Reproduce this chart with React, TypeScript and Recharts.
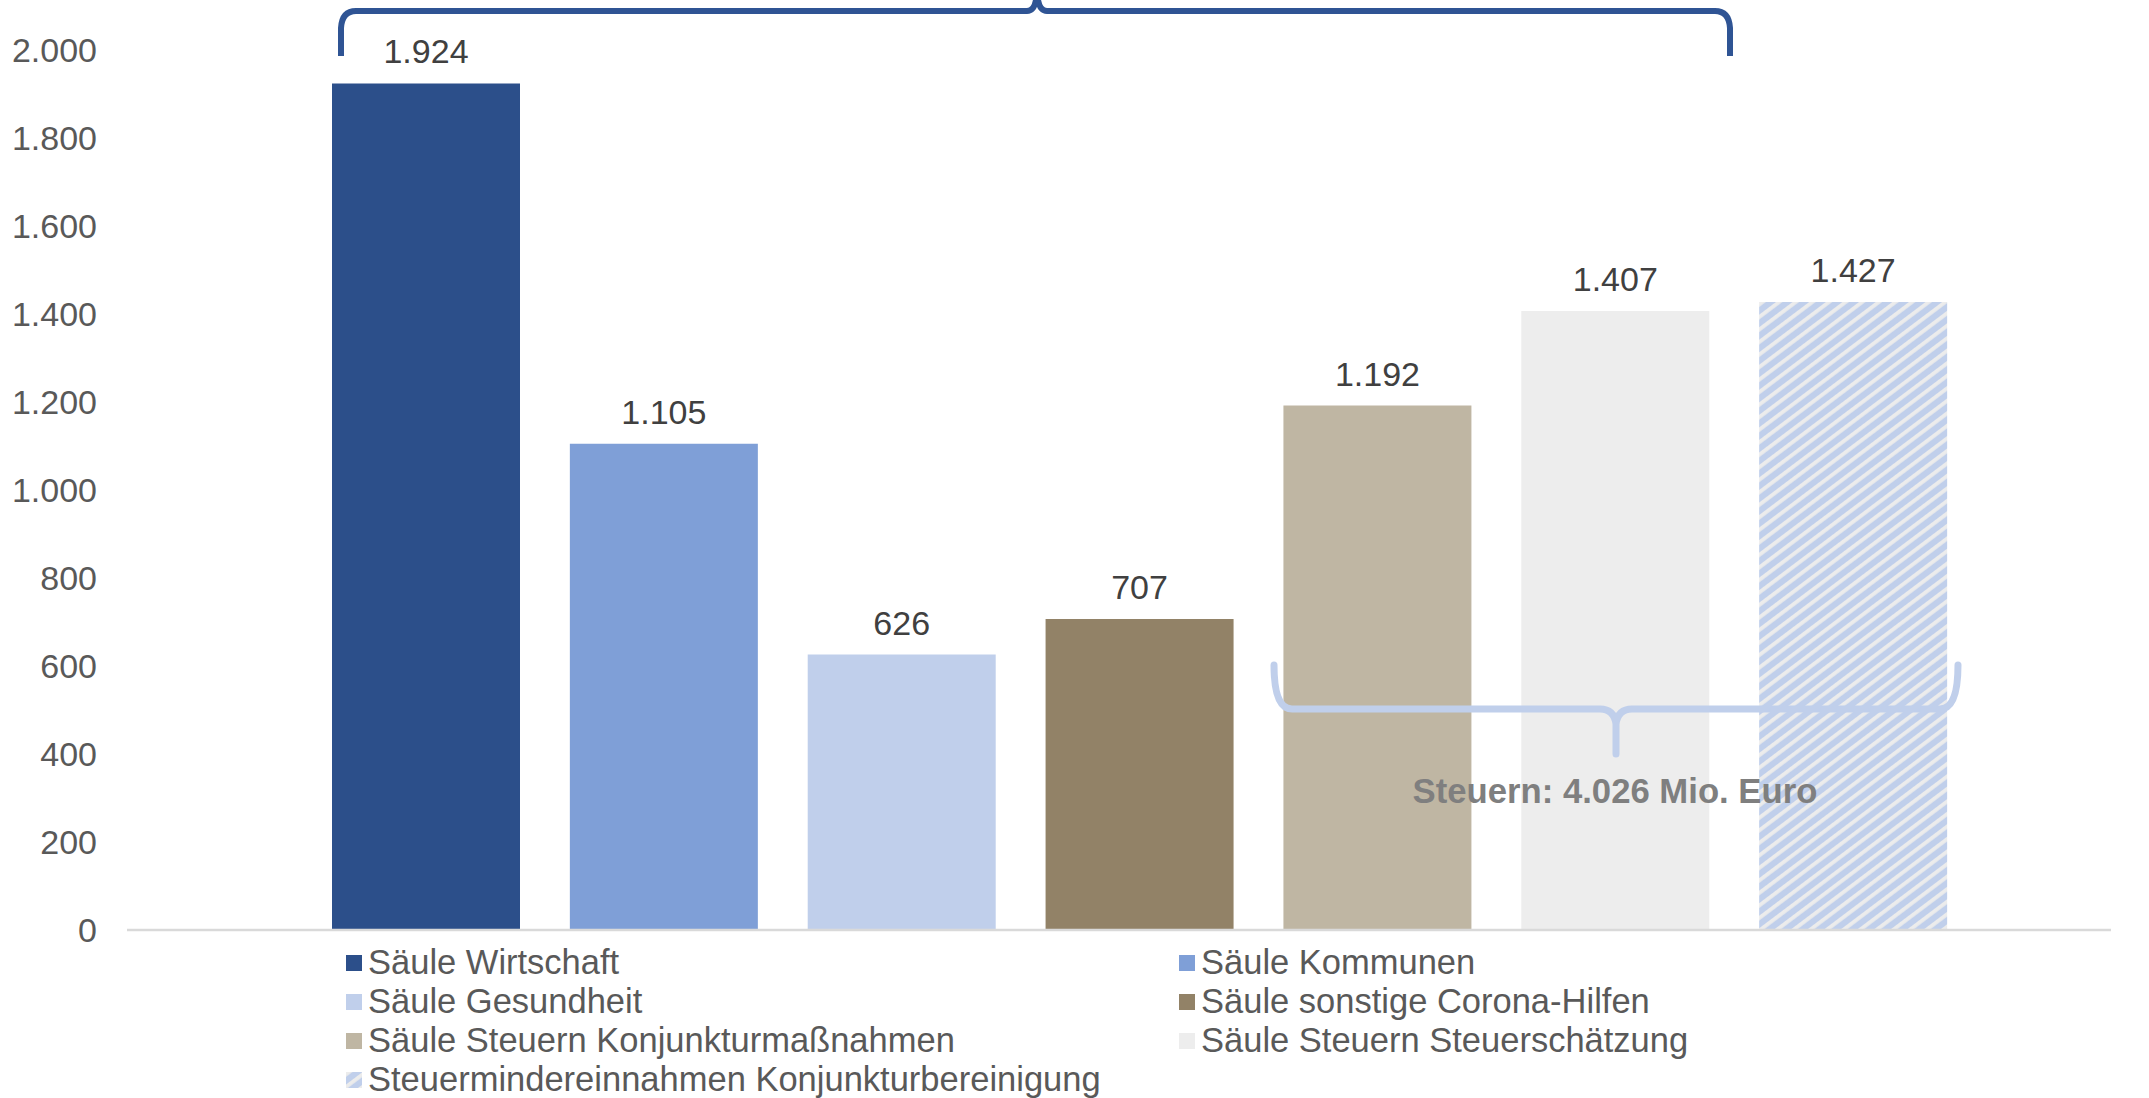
import { Bar, BarChart, Cell, LabelList, Legend, XAxis, YAxis } from "recharts"

const categories = [
  "Säule Wirtschaft",
  "Säule Kommunen",
  "Säule Gesundheit",
  "Säule sonstige Corona-Hilfen",
  "Säule Steuern Konjunkturmaßnahmen",
  "Säule Steuern Steuerschätzung",
  "Steuermindereinnahmen Konjunkturbereinigung",
]
const values = [1924, 1105, 626, 707, 1192, 1407, 1427]
const colors = ["#2c4f8a", "#7f9fd7", "#c0cfeb", "#928267", "#bfb6a3", "#ededed", "url(#hatch)"]
const yTicks = [0, 200, 400, 600, 800, 1000, 1200, 1400, 1600, 1800, 2000]
const steuernText = "Steuern: 4.026 Mio. Euro"

const data = categories.map((name, i) => ({ name, wert: values[i] }))

const font = "'Liberation Sans', Arial, sans-serif"

// deutsches Tausendertrennzeichen
const fmt = (v: number | string) => String(v).replace(/\B(?=(\d{3})+(?!\d))/g, ".")

function Hatch({ id }: { id: string }) {
  return (
    <pattern id={id} width={10} height={10} patternUnits="userSpaceOnUse" patternTransform="rotate(53)">
      <rect width={10} height={10} fill="#c0cfeb" />
      <rect width={3.8} height={10} fill="#ececec" />
    </pattern>
  )
}

function LegendBox() {
  return (
    <div style={{ position: "relative", width: 2149, height: 150, fontFamily: font, fontSize: 34.5, color: "#595959" }}>
      {categories.map((name, i) => {
        const col = i % 2
        const row = Math.floor(i / 2)
        return (
          <div
            key={name}
            style={{
              position: "absolute",
              left: col === 0 ? 346 : 1179,
              top: row * 39,
              height: 39,
              lineHeight: "39px",
              display: "flex",
              alignItems: "center",
              whiteSpace: "nowrap",
            }}
          >
            <svg width={16} height={16} style={{ marginRight: 6 }}>
              <defs>
                <Hatch id={`hatch-leg-${i}`} />
              </defs>
              <rect width={16} height={16} fill={i === 6 ? `url(#hatch-leg-${i})` : colors[i]} />
            </svg>
            <span>{name}</span>
          </div>
        )
      })}
    </div>
  )
}

export default function App() {
  return (
    <div style={{ position: "absolute", left: 0, top: 0, width: 2149, height: 1098, background: "#fff" }}>
      <BarChart width={2149} height={1098} data={data} margin={{ top: 50, right: 38, left: 0, bottom: 0 }}>
        <defs>
          <Hatch id="hatch" />
        </defs>
        <XAxis
          dataKey="name"
          tick={false}
          tickLine={false}
          height={18}
          padding={{ left: 180, right: 139 }}
          axisLine={{ stroke: "#d9d9d9", strokeWidth: 2.5 }}
        />
        <YAxis
          width={127}
          domain={[0, 2000]}
          ticks={yTicks}
          interval={0}
          axisLine={false}
          tickLine={false}
          tickSize={0}
          tickMargin={30}
          tickFormatter={fmt}
          tick={{ fill: "#595959", fontSize: 34, fontFamily: font }}
        />
        <Legend
          verticalAlign="bottom"
          content={() => <LegendBox />}
          wrapperStyle={{ left: 0, top: 943, width: 2149, height: 150 }}
        />
        <Bar dataKey="wert" barSize={188} isAnimationActive={false}>
          {data.map((d, i) => (
            <Cell key={d.name} fill={colors[i]} />
          ))}
          <LabelList
            dataKey="wert"
            position="top"
            offset={20}
            formatter={fmt}
            style={{ fill: "#404040", fontSize: 34, fontFamily: font }}
          />
        </Bar>
      </BarChart>
      <svg width={2149} height={1098} style={{ position: "absolute", left: 0, top: 0, pointerEvents: "none" }}>
        <path
          d="M 341 56 L 341 28 Q 342 11 356 11 L 1027 11 Q 1034 11 1036 0 L 1038 0 Q 1040 11 1047 11 L 1715 11 Q 1729 11 1730 28 L 1730 56"
          fill="none"
          stroke="#2f5494"
          strokeWidth={6}
        />
        <path
          d="M 1274 665 Q 1274 709 1292 709 L 1600 709 Q 1614 709 1616 724 L 1616 754 M 1616 724 Q 1618 709 1632 709 L 1940 709 Q 1958 709 1958 665"
          fill="none"
          stroke="#c0cfeb"
          strokeWidth={7}
          strokeLinecap="round"
        />
        <text
          x={1615}
          y={803}
          textAnchor="middle"
          fill="#7f7f7f"
          fontFamily={font}
          fontWeight="bold"
          fontSize={34.7}
        >
          {steuernText}
        </text>
      </svg>
    </div>
  )
}
